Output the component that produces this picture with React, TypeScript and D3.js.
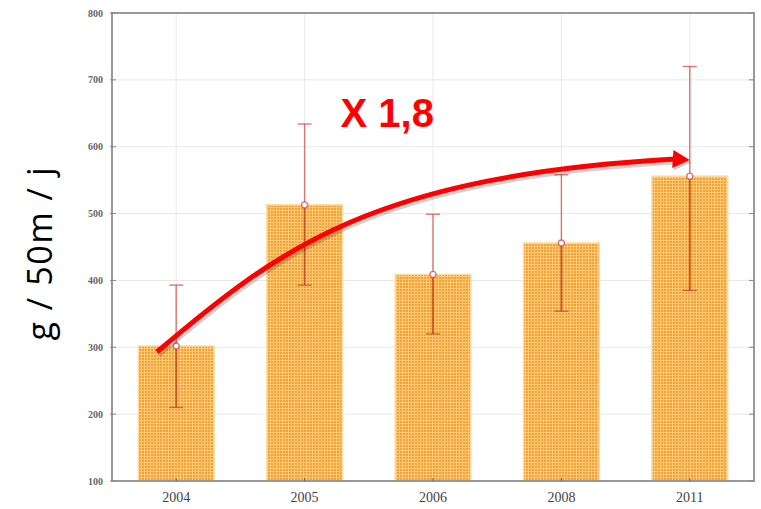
import React from "react";
import * as d3 from "d3";

const categories = ["2004", "2005", "2006", "2008", "2011"];
const means = [302, 513, 409, 456, 556];
const upper = [393, 634, 499, 558, 720];
const lower = [210, 393, 320, 354, 385];
const yTicks = [100, 200, 300, 400, 500, 600, 700, 800];
const yLabel = "g / 50m / j";
const annotation = "X 1,8";
// arrow annotation in data space: [category, offset fraction of band, value]
const arrowFrom = { cat: "2004", dx: -0.15, v: 293 };
const arrowTo = { cat: "2011", dx: 0, v: 580 };

const W = 761;
const H = 509;
const M = { left: 112, right: 7, top: 13, bottom: 28 };

export default function App() {
  const x = d3
    .scaleBand<string>()
    .domain(categories)
    .range([M.left, W - M.right])
    .paddingInner(0.41)
    .paddingOuter(0.205);
  const y = d3.scaleLinear().domain([100, 800]).range([H - M.bottom, M.top]);
  const step = x.step();
  const cx = (c: string) => (x(c) as number) + x.bandwidth() / 2;

  const x0 = cx(arrowFrom.cat) + arrowFrom.dx * step;
  const y0 = y(arrowFrom.v);
  const x3 = cx(arrowTo.cat) - 15;
  const y3 = y(arrowTo.v) - 1;
  const tipX = cx(arrowTo.cat);
  const tipY = y(arrowTo.v);
  const x1 = x0 + step * 0.96;
  const y1 = y(450);
  const x2 = x0 + step * 1.7;
  const y2 = y(556);
  const p = d3.path();
  p.moveTo(x0, y0);
  p.bezierCurveTo(x1, y1, x2, y2, x3, y3);
  const pathD = p.toString();
  const ang = Math.atan2(tipY - y3, tipX - x3);
  const hl = 17, hw = 9;
  const bx = tipX - hl * Math.cos(ang);
  const by = tipY - hl * Math.sin(ang);
  const head = [
    [tipX, tipY],
    [bx + hw * Math.sin(ang), by - hw * Math.cos(ang)],
    [bx - hw * Math.sin(ang), by + hw * Math.cos(ang)],
  ];
  const headD = d3.line()(head as [number, number][]) + "Z";

  const plotL = M.left, plotR = W - M.right, plotT = M.top, plotB = H - M.bottom;

  return (
    <svg
      width={W}
      height={H}
      style={{ position: "fixed", left: 0, top: 0, background: "#fff" }}
    >
      <defs>
        <pattern id="grid" width="3" height="3" patternUnits="userSpaceOnUse">
          <rect width="3" height="3" fill="#F3A233" />
          <rect x="0" y="0" width="3" height="1" fill="#FAC977" />
          <rect x="0" y="0" width="1" height="3" fill="#FAC977" />
        </pattern>
      </defs>
      {yTicks.map((t) => (
        <line key={"h" + t} x1={plotL} x2={plotR} y1={y(t)} y2={y(t)} stroke="#E8E8E8" strokeWidth={1} />
      ))}
      {categories.map((c) => (
        <line key={"v" + c} x1={cx(c)} x2={cx(c)} y1={plotT} y2={plotB} stroke="#E8E8E8" strokeWidth={1} />
      ))}
      {categories.map((c, i) => (
        <rect
          key={"b" + c}
          x={x(c)}
          y={y(means[i])}
          width={x.bandwidth()}
          height={plotB - y(means[i])}
          fill="url(#grid)"
          stroke="#FBDDA6"
          strokeWidth={1.5}
        />
      ))}
      {categories.map((c, i) => (
        <g key={"e" + c} stroke="#D0403A" strokeOpacity={0.7} strokeWidth={1.4}>
          <line x1={cx(c)} x2={cx(c)} y1={y(upper[i])} y2={y(means[i])} />
          <line x1={cx(c)} x2={cx(c)} y1={y(means[i])} y2={y(lower[i])} stroke="#C0441C" strokeOpacity={0.85} strokeWidth={1.8} />
          <line x1={cx(c) - 7} x2={cx(c) + 7} y1={y(upper[i])} y2={y(upper[i])} />
          <line x1={cx(c) - 7} x2={cx(c) + 7} y1={y(lower[i])} y2={y(lower[i])} stroke="#C0441C" />
          <circle cx={cx(c)} cy={y(means[i])} r={3} fill="#fff" />
        </g>
      ))}
      <rect x={plotL} y={plotT} width={plotR - plotL} height={plotB - plotT} fill="none" stroke="#999" strokeWidth={2} />
      {yTicks.map((t) => (
        <g key={"t" + t} stroke="#888" strokeWidth={1}>
          <line x1={plotL - 2} x2={plotL + 4} y1={y(t)} y2={y(t)} />
          <line x1={plotR - 5} x2={plotR} y1={y(t)} y2={y(t)} />
        </g>
      ))}
      {categories.map((c) => (
        <line key={"xt" + c} x1={cx(c)} x2={cx(c)} y1={plotB - 3} y2={plotB} stroke="#666" strokeWidth={1} />
      ))}
      {yTicks.map((t) => (
        <text
          key={"yl" + t}
          x={plotL - 9}
          y={y(t)}
          dy="0.35em"
          textAnchor="end"
          fontFamily="'Liberation Serif', serif"
          fontSize={10}
          fontWeight="bold"
          fill="#666"
        >
          {t}
        </text>
      ))}
      {categories.map((c) => (
        <text
          key={"xl" + c}
          x={cx(c)}
          y={plotB + 21}
          textAnchor="middle"
          fontFamily="'Liberation Serif', serif"
          fontSize={14}
          fill="#444"
        >
          {c}
        </text>
      ))}
      <text
        transform={`translate(52,${(plotT + plotB) / 2 + 7}) rotate(-90)`}
        textAnchor="middle"
        fontFamily="'Open Sans', sans-serif"
        fontSize={34}
        textLength={173}
        lengthAdjust="spacing"
        fill="#000"
      >
        {yLabel}
      </text>
      <path d={pathD} fill="none" stroke="#000" strokeOpacity={0.18} strokeWidth={6} transform="translate(1.5,2.5)" />
      <path d={headD} fill="#000" fillOpacity={0.18} transform="translate(1.5,2.5)" />
      <path d={pathD} fill="none" stroke="#FF0000" strokeWidth={5} strokeLinecap="butt" />
      <path d={headD} fill="#FF0000" />
      <text
        x={x(categories[1])! + x.bandwidth() * 0.5 + step * 0.28}
        y={y(629)}
        fontFamily="'Liberation Sans', Arial, sans-serif"
        fontWeight="bold"
        fontSize={40}
        fill="#FF0000"
      >
        {annotation}
      </text>
    </svg>
  );
}
